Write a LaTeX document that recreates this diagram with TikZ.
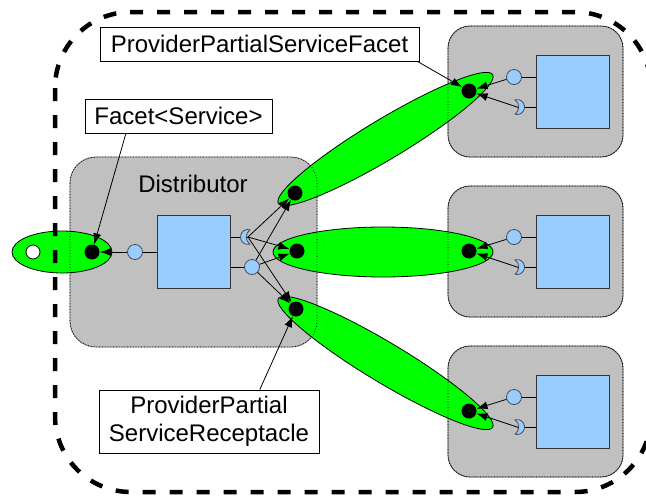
\documentclass[tikz,border=0pt]{standalone}
\usepackage{fontspec}
\setmainfont{Liberation Sans}
\usepackage{tikz}
\definecolor{hubgreen}{RGB}{0,255,0}
\definecolor{boxgray}{RGB}{192,192,192}
\definecolor{portblue}{RGB}{153,204,255}
\usetikzlibrary{arrows.meta,shapes,calc}

\begin{document}
\begin{tikzpicture}[x=1pt, y=-1pt, line width=0.8pt,
	>={Latex[length=11pt,width=8pt]},   %Pfeilspitzen
	font=\fontsize{24}{28}\selectfont,
	box/.style={draw=black!75, fill=boxgray, rounded corners=22pt},
	comp/.style={draw=black!80, fill=portblue, minimum size=73pt, inner sep=0pt},
	port/.style={circle, draw=black!70, fill=portblue, minimum size=15pt, inner sep=0pt},
	dot/.style={circle, fill=black, minimum size=15pt, inner sep=0pt},
	hub/.style={draw=black, fill=hubgreen},
	note/.style={draw, fill=white, inner sep=0pt, align=center},
	socket/.pic={\path[draw=black!70, fill=portblue] (105:7.5) arc[start angle=105, end angle=-105, radius=7.5] .. controls (3,-3) and (3,3) .. (105:7.5) -- cycle;}]
	\useasboundingbox (0,0) rectangle (646,496);
	% Komponenten
	\draw[box, draw=black!55, rounded corners=26pt] (70,157) rectangle (317,347);
	\foreach \o in {0,160,320} \draw[box] (448,26+\o) rectangle (623,157+\o);
	% Verbindungen (gruen)
	\draw[hub] (62,252) ellipse [x radius=50, y radius=21];
	\draw[hub, rotate around={31:(385.5,139)}] (385.5,139) ellipse [x radius=125, y radius=20];
	\draw[hub] (383,252) ellipse [x radius=110, y radius=25];
	\draw[hub, rotate around={-31:(385.5,363)}] (385.5,363) ellipse [x radius=125, y radius=20];
	% Rahmen gepunktet
	\draw[dotted, rounded corners=26pt] (70,157) rectangle (317,347);
	\foreach \o in {0,160,320} \draw[dotted, rounded corners=22pt] (448,26+\o) rectangle (623,157+\o);
	% Distributor
	\node (dname) at (193,184) {Distributor};
	\node[comp] (sq0) at (193.5,251.5) {};
	\node[port] (p0) at (135,252) {};
	\node[port] (pq0) at (252,267) {};
	\coordinate (rq0) at (248,237);
	\node[circle, draw, fill=white, minimum size=14pt, inner sep=0pt] (ext) at (33,252) {};
	\node[dot] (d0) at (92,252) {};
	\node[dot] (dt) at (295,193) {};
	\node[dot] (dm) at (297,251) {};
	\node[dot] (dl) at (296,309) {};
	\draw (p0) -- (p0 -| sq0.west);
	\draw (rq0) -- (rq0 -| sq0.east);
	\draw (pq0) -- (pq0 -| sq0.east);
	\draw[->] (p0) -- (d0);
	\foreach \t in {dt,dm,dl} {
		\draw[->] (rq0) -- (\t);
		\draw[->] (pq0) -- (\t);
	}
	\pic[rotate=180] at (rq0) {socket};
	% Provider
	\foreach \o/\n in {0/a,160/b,320/c} {
		\node[comp] (sq\n) at (572.5,91.5+\o) {};
		\node[port] (p\n) at (514,77+\o) {};
		\coordinate (r\n) at (517,107+\o);
		\node[dot] (d\n) at (469,91+\o) {};
		\draw (p\n) -- (p\n -| sq\n.west);
		\draw (r\n) -- (r\n -| sq\n.west);
		\draw[->] (p\n) -- (d\n);
		\draw[->] (r\n) -- (d\n);
		\pic at (r\n) {socket};
	}
	% Beschriftung
	\node[note, minimum width=319pt, minimum height=34pt] (ppsf) at (259.5,44) {ProviderPartialServiceFacet};
	\node[note, minimum width=187pt, minimum height=34pt] (facet) at (178.5,116) {Facet<Service>};
	\node[note, minimum width=220pt, minimum height=63pt] (ppsr) at (209,421.5) {ProviderPartial\\ServiceReceptacle};
	\draw[->] ($(ppsf.south east)+(-2,0)$) -- (da);
	\draw[->] ($(facet.south west)!0.22!(facet.south east)$) -- (d0);
	\draw[->] ($(ppsr.north west)!0.73!(ppsr.north east)$) -- (dl);
	% Aussenrahmen
	\draw[line width=4.5pt, dash pattern=on 13pt off 14pt, rounded corners=76pt] (55,12) rectangle (651,492);
\end{tikzpicture}
\end{document}
